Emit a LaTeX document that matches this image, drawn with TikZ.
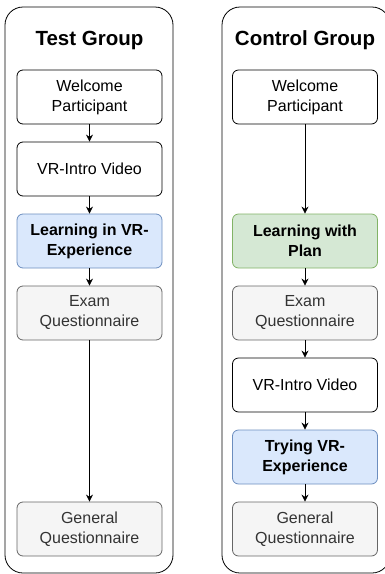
\documentclass[tikz,border=0pt]{standalone}
\usepackage{fontspec}
\setmainfont{Liberation Sans}
\usetikzlibrary{positioning, arrows.meta}
\definecolor{vrfill}{HTML}{DAE8FC}
\definecolor{vrline}{HTML}{6C8EBF}
\definecolor{planfill}{HTML}{D5E8D4}
\definecolor{planline}{HTML}{82B366}
\definecolor{qfill}{HTML}{F5F5F5}
\definecolor{qline}{HTML}{666666}
\definecolor{qtext}{HTML}{333333}
\tikzset{
x=1pt, y=-1pt, % one unit is one pixel of the sketch, y grows downwards
node distance=72pt, % distance between the centres of two steps
step box/.style={draw, rounded corners=6pt, minimum width=145pt, minimum height=54pt, align=center, font=\fontsize{16}{20}\selectfont, line width=0.8pt, fill=white}, % every step
vr box/.style={step box, fill=vrfill, draw=vrline, font=\fontsize{16}{20}\selectfont\bfseries}, % VR steps
plan box/.style={step box, fill=planfill, draw=planline, font=\fontsize{16}{20}\selectfont\bfseries}, % learning with plan
quest box/.style={step box, fill=qfill, draw=qline, text=qtext}, % questionnaires
group/.style={draw, rounded corners=18pt, line width=0.8pt}, % the two columns
title/.style={font=\fontsize{20.5}{24}\selectfont\bfseries},
flow/.style={-{Stealth[length=7pt, width=7pt]}, line width=0.8pt},
}
\begin{document}
\begin{tikzpicture}
    \useasboundingbox (0,0) rectangle (385,574);
    \clip (0,0) rectangle (385,574);

    % columns
    \draw[group] (5,7) rectangle (173,573);
    \draw[group] (222,7) rectangle (390,573);
    \node[title] (testtitle) at (89.5,40) {Test Group};
    \node[title] (ctrltitle) at (305,40) {Control Group};

    % test group
    \node[step box] (tw) at (89.5,97) {Welcome\\Participant};
    \node[step box, below of=tw] (tv) {VR-Intro Video};
    \node[vr box, below of=tv] (tl) {Learning in VR-\\Experience};
    \node[quest box, below of=tl] (te) {Exam\\Questionnaire};
    \node[quest box, below of=te, node distance=216pt] (tg) {General\\Questionnaire};

    \draw[flow] (tw) -- (tv);
    \draw[flow] (tv) -- (tl);
    \draw[flow] (tl) -- (te);
    \draw[flow] (te) -- (tg);

    % control group
    \node[step box] (cw) at (305,97) {Welcome\\Participant};
    \node[plan box, below of=cw, node distance=144pt] (cl) {Learning with\\Plan};
    \node[quest box, below of=cl] (ce) {Exam\\Questionnaire};
    \node[step box, below of=ce] (cv) {VR-Intro Video};
    \node[vr box, below of=cv] (ct) {Trying VR-\\Experience};
    \node[quest box, below of=ct] (cg) {General\\Questionnaire};

    \draw[flow] (cw) -- (cl);
    \draw[flow] (cl) -- (ce);
    \draw[flow] (ce) -- (cv);
    \draw[flow] (cv) -- (ct);
    \draw[flow] (ct) -- (cg);
\end{tikzpicture}
\end{document}
